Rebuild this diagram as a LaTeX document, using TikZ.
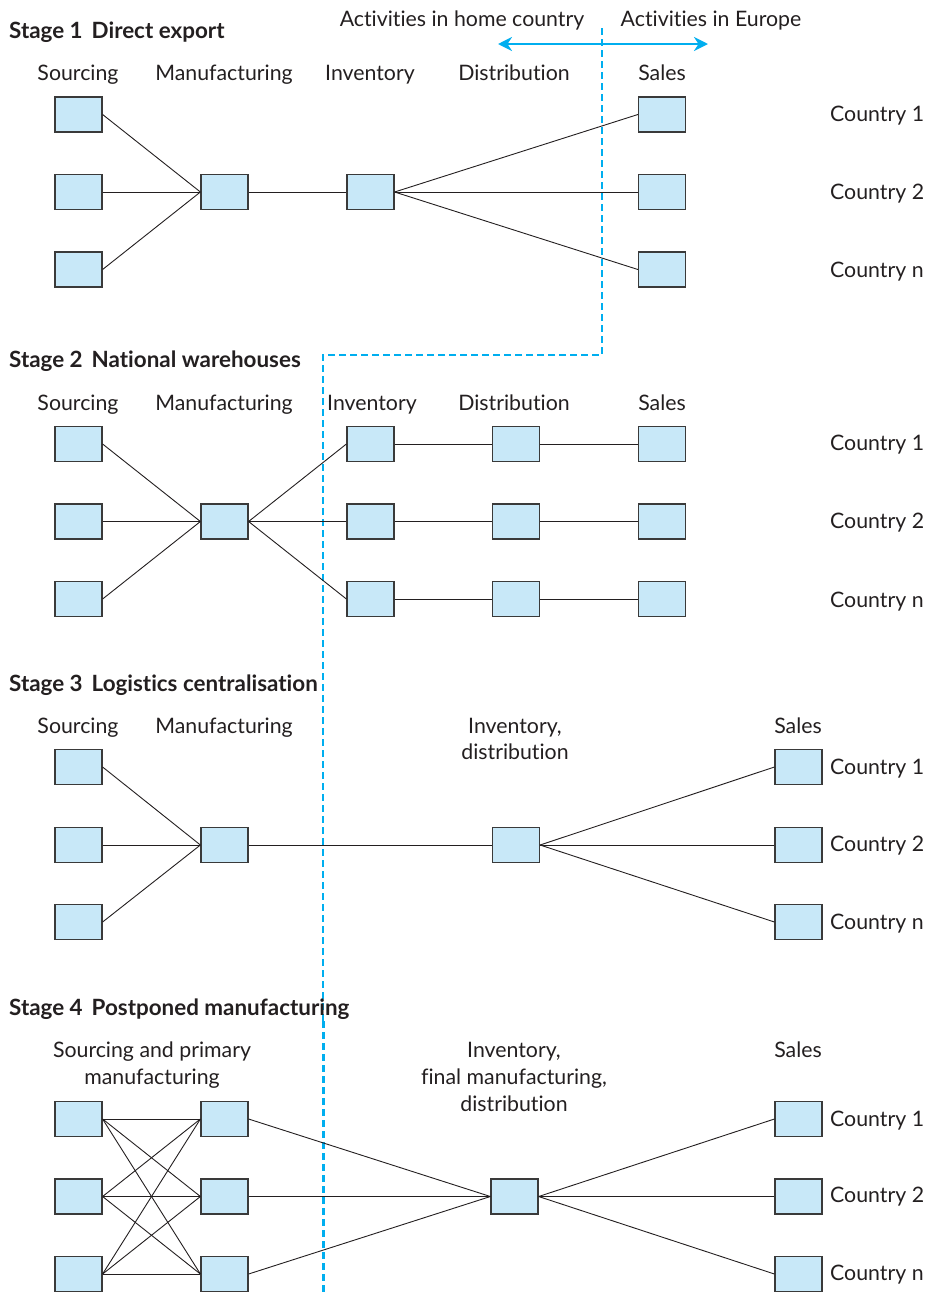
\documentclass[tikz,border=0pt]{standalone}
\usepackage{fontspec}
\setmainfont{Lato}[Ligatures=NoCommon]
\usetikzlibrary{arrows.meta}
\definecolor{boxfill}{HTML}{C8E8F8}
\definecolor{boxline}{HTML}{3A3A3A}
\definecolor{ink}{HTML}{231F20}
\definecolor{europe}{HTML}{00AEEF}
\tikzset{
  unit/.style={draw=boxline, fill=boxfill, line width=1.2pt, minimum width=47pt, minimum height=35pt, inner sep=0pt},
  link/.style={draw=ink, line width=0.9pt},
  lab/.style={anchor=base, inner sep=0pt, text=ink, font=\fontsize{21.3}{25}\selectfont},
  clab/.style={lab, anchor=base west},
  title/.style={anchor=base west, inner sep=0pt, text=ink, font=\fontsize{22.4}{26}\selectfont\bfseries},
  border/.style={draw=europe, dash pattern=on 7pt off 4pt},
}
\begin{document}
\begin{tikzpicture}[x=1pt,y=-1pt]
\useasboundingbox (0,0) rectangle (936,1294);
% ---------- top arrow and labels
\node[lab] (home) at (462,26) {Activities in home country};
\node[lab] (eur) at (711,26) {Activities in Europe};
\coordinate (arL) at (498,44);
\coordinate (arR) at (708,44);
\draw[europe, line width=2.4pt, {Stealth[length=14pt,width=14pt]}-{Stealth[length=14pt,width=14pt]}] (arL) -- (arR);
% ---------- dashed border
\coordinate (d0) at (602,28);
\coordinate (d1) at (602,355);
\coordinate (d2) at (323,355);
\coordinate (d3) at (323,1021);
\coordinate (d4) at (323,1294);
\draw[border, line width=1.3pt] (d0) -- (d1) -- (d2) -- (d3);
\draw[border, line width=3pt] (d3) -- (d4);

% ================= Stage 1
\node[title] (t1) at (9,38) {Stage 1\hspace{0.4em}Direct export};
\node[lab] (h1a) at (78,80) {Sourcing};
\node[lab] (h1b) at (224,80) {Manufacturing};
\node[lab] (h1c) at (370,80) {Inventory};
\node[lab] (h1d) at (514,80) {Distribution};
\node[lab] (h1e) at (662,80) {Sales};
\node[unit] (a11) at (78.5,114.5) {};
\node[unit] (a12) at (78.5,192) {};
\node[unit] (a13) at (78.5,269.5) {};
\node[unit] (m1) at (224.5,192) {};
\node[unit] (i1) at (370.5,192) {};
\node[unit] (s11) at (662,114.5) {};
\node[unit] (s12) at (662,192) {};
\node[unit] (s13) at (662,269.5) {};
\node[clab] (c11) at (830,121) {Country 1};
\node[clab] (c12) at (830,199) {Country 2};
\node[clab] (c13) at (830,277) {Country n};
\foreach \k in {1,2,3}{\draw[link] (a1\k.east) -- (m1.west);}
\draw[link] (m1.east) -- (i1.west);
\foreach \k in {1,2,3}{\draw[link] (i1.east) -- (s1\k.west);}

% ================= Stage 2
\node[title] (t2) at (9,367) {Stage 2\hspace{0.4em}National warehouses};
\node[lab] (h2a) at (78,410) {Sourcing};
\node[lab] (h2b) at (224,410) {Manufacturing};
\node[lab] (h2c) at (372,410) {Inventory};
\node[lab] (h2d) at (514,410) {Distribution};
\node[lab] (h2e) at (662,410) {Sales};
\node[unit] (a21) at (78.5,444) {};
\node[unit] (a22) at (78.5,521.5) {};
\node[unit] (a23) at (78.5,599) {};
\node[unit] (m2) at (224.5,521.5) {};
\node[unit] (i21) at (370.5,444) {};
\node[unit] (i22) at (370.5,521.5) {};
\node[unit] (i23) at (370.5,599) {};
\node[unit] (d21) at (516,444) {};
\node[unit] (d22) at (516,521.5) {};
\node[unit] (d23) at (516,599) {};
\node[unit] (s21) at (662,444) {};
\node[unit] (s22) at (662,521.5) {};
\node[unit] (s23) at (662,599) {};
\node[clab] (c21) at (830,450) {Country 1};
\node[clab] (c22) at (830,528) {Country 2};
\node[clab] (c23) at (830,607) {Country n};
\foreach \k in {1,2,3}{
  \draw[link] (a2\k.east) -- (m2.west);
  \draw[link] (m2.east) -- (i2\k.west);
  \draw[link] (i2\k.east) -- (d2\k.west);
  \draw[link] (d2\k.east) -- (s2\k.west);
}

% ================= Stage 3
\node[title] (t3) at (9,691) {Stage 3\hspace{0.4em}Logistics centralisation};
\node[lab] (h3a) at (78,733) {Sourcing};
\node[lab] (h3b) at (224,733) {Manufacturing};
\node[lab] (h3c) at (515,733) {Inventory,};
\node[lab] (h3d) at (515,759) {distribution};
\node[lab] (h3e) at (798,733) {Sales};
\node[unit] (a31) at (78.5,767) {};
\node[unit] (a32) at (78.5,845) {};
\node[unit] (a33) at (78.5,922) {};
\node[unit] (m3) at (224.5,845) {};
\node[unit] (i3) at (516,845) {};
\node[unit] (s31) at (798.5,767) {};
\node[unit] (s32) at (798.5,845) {};
\node[unit] (s33) at (798.5,922) {};
\node[clab] (c31) at (830,774) {Country 1};
\node[clab] (c32) at (830,851) {Country 2};
\node[clab] (c33) at (830,929) {Country n};
\foreach \k in {1,2,3}{\draw[link] (a3\k.east) -- (m3.west);}
\draw[link] (m3.east) -- (i3.west);
\foreach \k in {1,2,3}{\draw[link] (i3.east) -- (s3\k.west);}

% ================= Stage 4
\node[title] (t4) at (9,1015) {Stage 4\hspace{0.4em}Postponed manufacturing};
\node[lab] (h4a) at (152,1057) {Sourcing and primary};
\node[lab] (h4b) at (152,1084) {manufacturing};
\node[lab] (h4c) at (514,1057) {Inventory,};
\node[lab] (h4d) at (514,1084) {final manufacturing,};
\node[lab] (h4e) at (514,1111) {distribution};
\node[lab] (h4f) at (798,1057) {Sales};
\node[unit] (a41) at (78.5,1119) {};
\node[unit] (a42) at (78.5,1196.5) {};
\node[unit] (a43) at (78.5,1274) {};
\node[unit] (p41) at (224.5,1119) {};
\node[unit] (p42) at (224.5,1196.5) {};
\node[unit] (p43) at (224.5,1274) {};
\node[unit] (f4) at (514.5,1196.5) {};
\node[unit] (s41) at (798.5,1119) {};
\node[unit] (s42) at (798.5,1196.5) {};
\node[unit] (s43) at (798.5,1274) {};
\node[clab] (c41) at (830,1126) {Country 1};
\node[clab] (c42) at (830,1202) {Country 2};
\node[clab] (c43) at (830,1280) {Country n};
\foreach \i in {1,2,3}{
  \foreach \j in {1,2,3}{\draw[link] (a4\i.east) -- (p4\j.west);}
  \draw[link] (p4\i.east) -- (f4.west);
  \draw[link] (f4.east) -- (s4\i.west);
}
\end{tikzpicture}
\end{document}
